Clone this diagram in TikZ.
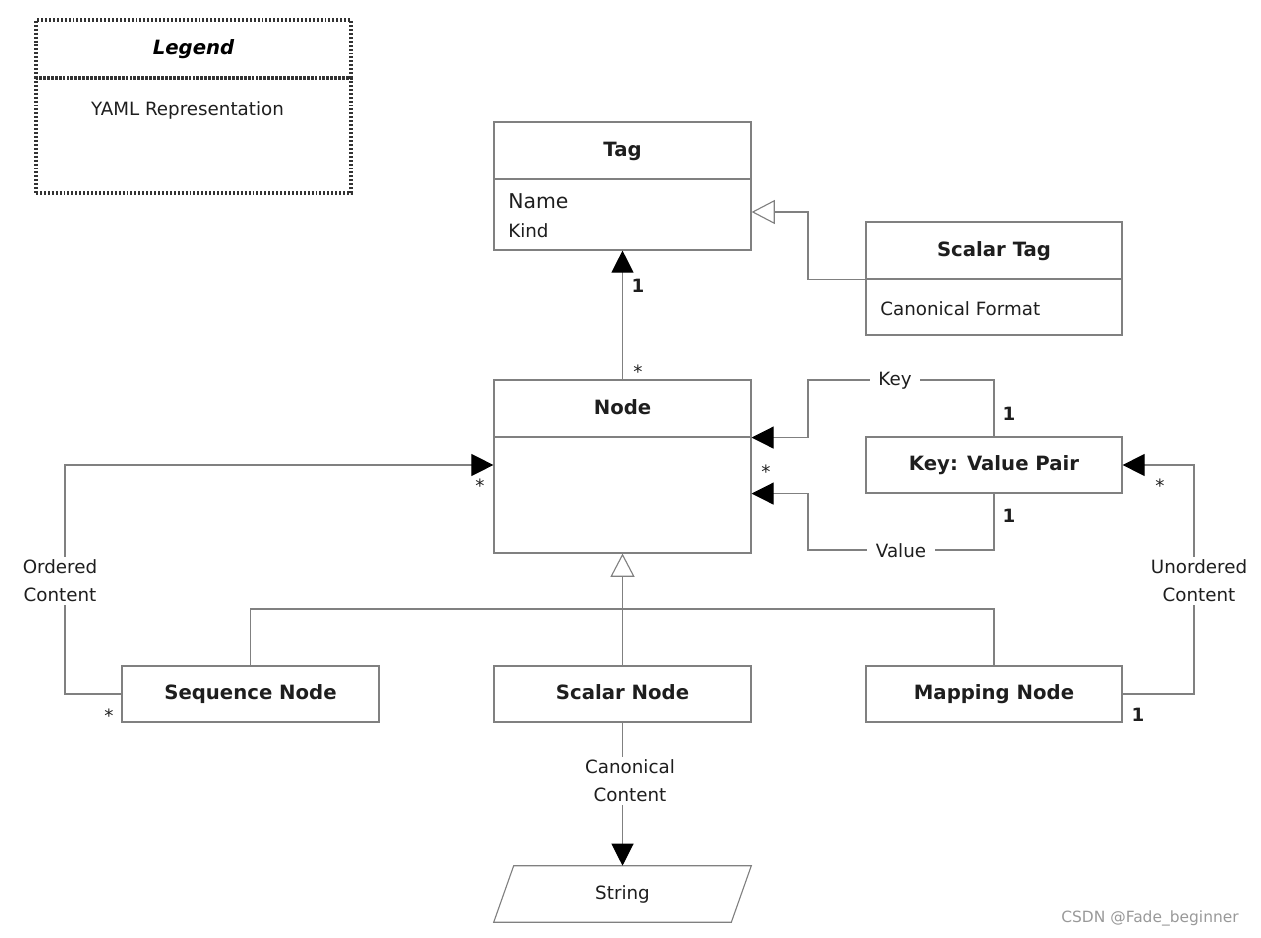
\documentclass[tikz,border=0pt]{standalone}
\usepackage{fontspec}
\setmainfont{DejaVu Sans}
\usetikzlibrary{arrows.meta}
\begin{document}
\begin{tikzpicture}[x=0.025cm, y=-0.025cm,
  box/.style={draw=ln, line width=0.8pt, inner sep=0pt, text=txt, text height=1.5ex, text depth=0pt, font=\fontsize{14}{16}\selectfont\bfseries},
  legendbox/.style={draw=lgd, line width=2.2pt, dash pattern=on 1.4pt off 1.4pt, inner sep=0pt, minimum width=7.875cm},
  attr/.style={anchor=west, inner sep=0pt, text=txt, font=\fontsize{13}{16}\selectfont},
  lbl/.style={fill=white, inner xsep=6pt, inner ysep=2pt, text=txt, align=center, font=\fontsize{13}{20}\selectfont},
  one/.style={inner sep=0pt, text=txt, font=\fontsize{13}{15}\selectfont\bfseries},
  many/.style={inner sep=0pt, text=txt, font=\fontsize{13}{15}\selectfont},
  line/.style={draw=ln, line width=0.8pt},
  assoc/.style={line, -{Triangle[length=0.55cm, width=0.55cm, black]}},
  gen/.style={line, -{Triangle[open, length=0.58cm, width=0.6cm]}}]
\definecolor{ln}{HTML}{808080}
\definecolor{lgd}{HTML}{333333}
\definecolor{txt}{HTML}{1E1E1E}
\useasboundingbox (0,0) rectangle (1261,938);

\node[legendbox, minimum height=1.45cm, text height=1.5ex, text depth=0pt] (leghead) at (193.5,49) {\fontsize{14}{16}\selectfont\bfseries\itshape Legend};
\node[legendbox, minimum height=2.875cm] (legbody) at (193.5,135.5) {};
\node[attr, anchor=center] (legtext) at (187.5,110) {YAML Representation};

\node[box, minimum width=6.425cm, minimum height=1.425cm] (taghead) at (622.5,150.5) {Tag};
\node[box, minimum width=6.425cm, minimum height=1.775cm] (tagbody) at (622.5,214.5) {};
\node[attr, font=\fontsize{14.5}{16}\selectfont] (tagname) at (508,201) {Name};
\node[attr] (tagkind) at (508,231) {Kind};

\node[box, minimum width=6.4cm, minimum height=1.425cm] (staghead) at (994,250.5) {Scalar Tag};
\node[box, minimum width=6.4cm, minimum height=1.4cm] (stagbody) at (994,307) {};
\node[attr] (stagfmt) at (880,309) {Canonical Format};

\node[box, minimum width=6.425cm, minimum height=1.425cm] (nodehead) at (622.5,408.5) {Node};
\node[box, minimum width=6.425cm, minimum height=2.9cm] (nodebody) at (622.5,495) {};

\node[box, minimum width=6.4cm, minimum height=1.4cm] (kvp) at (994,465) {Key: Value Pair};

\node[box, minimum width=6.425cm, minimum height=1.4cm] (seq) at (250.5,694) {Sequence Node};
\node[box, minimum width=6.425cm, minimum height=1.4cm] (scal) at (622.5,694) {Scalar Node};
\node[box, minimum width=6.4cm, minimum height=1.4cm] (map) at (994,694) {Mapping Node};

\node[inner sep=0pt, minimum width=5.925cm, minimum height=1.4cm, text=txt, font=\fontsize{13}{16}\selectfont] (str) at (622.5,894) {String};
\draw[line] ([xshift=-0.25cm]str.south west) -- ([xshift=0.25cm]str.north west) -- ([xshift=0.25cm]str.north east) -- ([xshift=-0.25cm]str.south east) -- cycle;

\coordinate (sbend) at (808,212);
\coordinate (kbend) at (808,380);
\coordinate (vbend) at (808,550);
\coordinate (obend) at (65,465);
\coordinate (ubend) at (1194,465);
\coordinate (gbar) at (622,609);

\draw[assoc] (nodehead.north) -- (tagbody.south);
\draw[gen] (staghead.south west) -| (sbend) -- (tagbody.east |- sbend);
\draw[assoc] (kvp.north) |- (kbend) |- (nodehead.south east);
\draw[assoc] (kvp.south) |- (vbend) |- (nodebody.east |- kvp.south);
\draw[assoc] (seq.west) -| (obend) -- (nodebody.west |- obend);
\draw[assoc] (map.east) -| (ubend) -- (kvp.east);
\draw[line] (seq.north) |- (map.north |- gbar) -- (map.north);
\draw[gen] (scal.north) -- (nodebody.south);
\draw[assoc] (scal.south) -- (str.north);

\node[lbl] (keylbl) at (895,381) {Key};
\node[lbl] (vallbl) at (901,551) {Value};
\node[lbl] (ordlbl) at (60,581) {Ordered\\Content};
\node[lbl] (unordlbl) at (1199,581) {Unordered\\Content};
\node[lbl] (canlbl) at (630,781) {Canonical\\Content};

\node[one] (m1) at (638,286) {1};
\node[many] (m2) at (638,372) {*};
\node[one] (m3) at (1009,414) {1};
\node[one] (m4) at (1009,516) {1};
\node[many] (m5) at (766,472) {*};
\node[many] (m6) at (480,486) {*};
\node[many] (m7) at (109,716) {*};
\node[many] (m8) at (1160,486) {*};
\node[one] (m9) at (1138,715) {1};

\node[inner sep=0pt, text=gray!80, font=\fontsize{11}{13}\selectfont] (mark) at (1150,918) {CSDN @Fade\_beginner};
\end{tikzpicture}
\end{document}
